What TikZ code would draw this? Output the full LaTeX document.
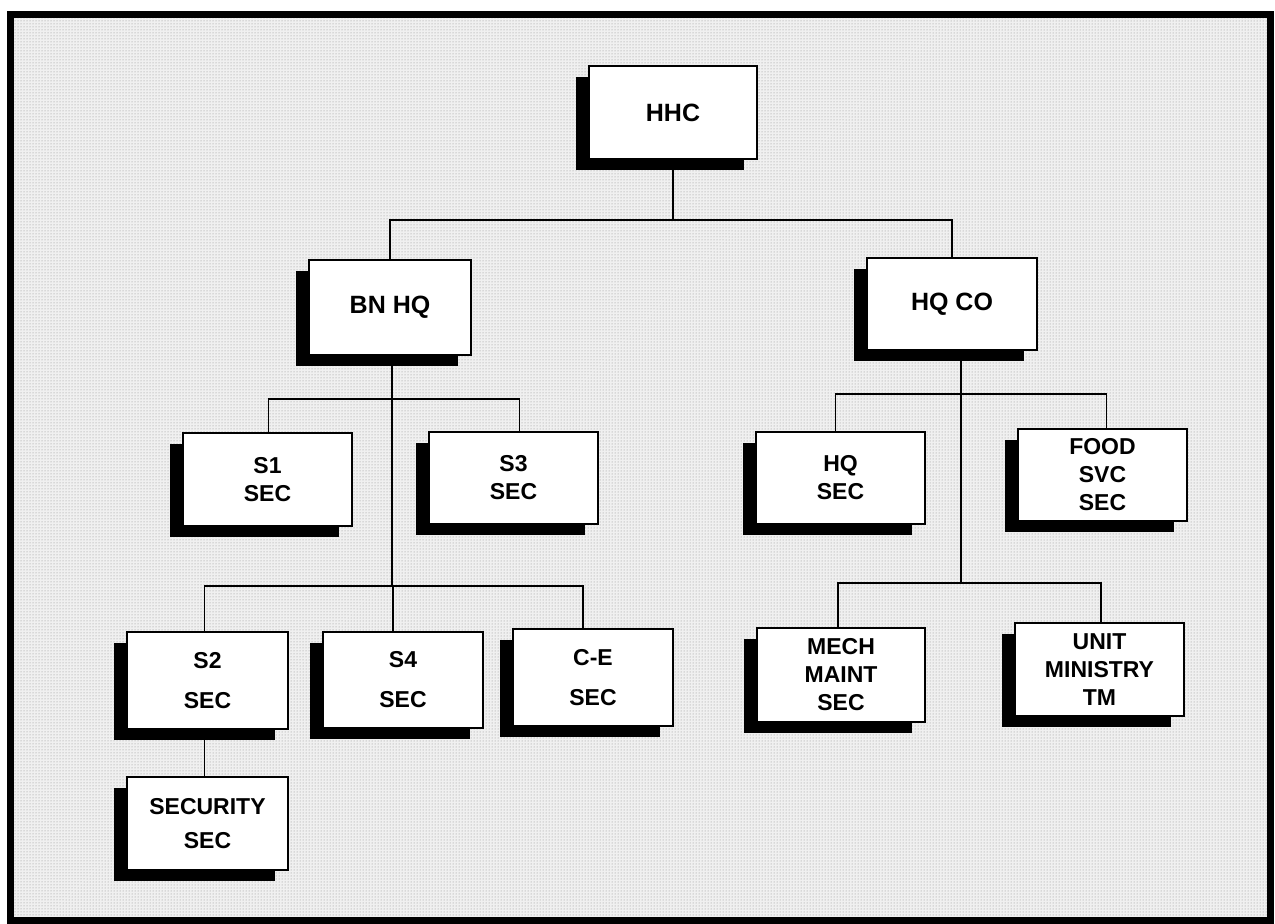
\documentclass[tikz,border=0pt]{standalone}
\usepackage{fontspec}
\setmainfont{Liberation Sans}
\usetikzlibrary{shadows,patterns}
\tikzset{
  unitbox/.style={draw=black, line width=1.8pt, fill=white, inner sep=0pt,
    align=center, font=\fontsize{23}{28}\selectfont\bfseries,
    drop shadow={shadow xshift=-13pt, shadow yshift=-11pt, fill=black, opacity=1}},
  topbox/.style={unitbox, font=\fontsize{25}{30}\selectfont\bfseries},
  link/.style={draw=black, line width=1.3pt}
}
\begin{document}
\begin{tikzpicture}[x=1pt,y=-1pt]
\useasboundingbox (0,0) rectangle (1275,924);
\fill[white] (0,0) rectangle (1275,924);
\fill[black!6] (10,14) rectangle (1270,920);
\fill[pattern=dots, pattern color=black!45] (10,14) rectangle (1270,920);
\draw[line width=7pt] (10,14) rectangle (1270,920);

\node[topbox, minimum width=168pt, minimum height=93pt] (hhc) at (673,112.5) {HHC};
\node[topbox, minimum width=162pt, minimum height=95pt] (bnhq) at (390,307.5) {BN HQ};
\node[topbox, minimum width=170pt, minimum height=92pt] (hqco) at (952,304) {HQ CO};
\node[unitbox, minimum width=169pt, minimum height=93pt] (s1) at (267.5,479.5) {S1\\SEC};
\node[unitbox, minimum width=169pt, minimum height=92pt] (s3) at (513.5,478) {S3\\SEC};
\node[unitbox, minimum width=169pt, minimum height=92pt] (hqsec) at (840.5,478) {HQ\\SEC};
\node[unitbox, minimum width=169pt, minimum height=92pt] (food) at (1102.5,475) {FOOD\\SVC\\SEC};
\node[unitbox, minimum width=161pt, minimum height=97pt] (s2) at (207.5,680.5) {S2\\[12pt]SEC};
\node[unitbox, minimum width=160pt, minimum height=96pt] (s4) at (403,680) {S4\\[12pt]SEC};
\node[unitbox, minimum width=160pt, minimum height=97pt] (ce) at (593,677.5) {C-E\\[12pt]SEC};
\node[unitbox, minimum width=161pt, minimum height=93pt] (secu) at (207.5,823.5) {SECURITY\\[6pt]SEC};
\node[unitbox, minimum width=168pt, minimum height=94pt] (mech) at (841,675) {MECH\\MAINT\\SEC};
\node[unitbox, minimum width=169pt, minimum height=93pt] (unit) at (1099.5,669.5) {UNIT\\MINISTRY\\TM};

% connectors
\coordinate (j0) at (673,220);
\draw[link] (hhc.south) -- (j0);
\draw[link] (j0) -| (bnhq.north);
\draw[link] (j0) -| (hqco.north);

\coordinate (b1) at (392,399);
\coordinate (b2) at (392,586);
\draw[link] ([xshift=2pt]bnhq.south) -- (b2);
\draw[link] (b1) -| ([xshift=1pt]s1.north);
\draw[link] (b1) -| ([xshift=6pt]s3.north);
\draw[link] (b2) -| ([xshift=-3pt]s2.north);
\draw[link] (b2) -| ([xshift=-10pt]s4.north);
\draw[link] (b2) -| ([xshift=-10pt]ce.north);
\draw[link] ([xshift=-3pt]s2.south) -- ([xshift=-3pt]secu.north);

\coordinate (h1) at (961,394);
\coordinate (h2) at (961,583);
\draw[link] ([xshift=9pt]hqco.south) -- (h2);
\draw[link] (h1) -| ([xshift=-5pt]hqsec.north);
\draw[link] (h1) -| ([xshift=4pt]food.north);
\draw[link] (h2) -| ([xshift=-3pt]mech.north);
\draw[link] (h2) -| ([xshift=1.5pt]unit.north);
\end{tikzpicture}
\end{document}
